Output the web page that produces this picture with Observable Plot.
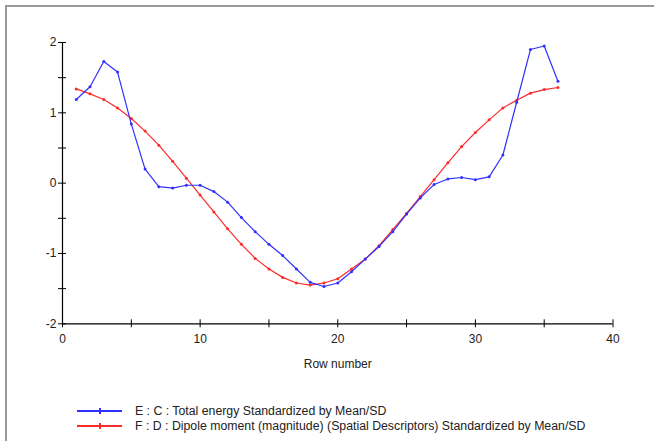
<!DOCTYPE html>
<html>
<head>
<meta charset="utf-8">
<script src="https://cdn.jsdelivr.net/npm/d3@7"></script>
<script src="https://cdn.jsdelivr.net/npm/@observablehq/plot@0.6"></script>
<style>
  html, body { margin: 0; padding: 0; background: #fff; width: 654px; height: 441px; overflow: hidden; }
  #frame { position: absolute; left: 5px; top: 5px; width: 649px; height: 436px; border-top: 2px solid #999; border-left: 2px solid #999; box-sizing: border-box; }
  #chart { position: absolute; left: 0; top: 0; }
  #legend { position: absolute; left: 0; top: 400px; width: 654px; font-family: "Liberation Sans", Arial, sans-serif; font-size: 12.3px; color: #222; }
  .row { position: absolute; left: 77px; height: 14px; display: flex; align-items: center; }
  .sw { position: relative; width: 45px; height: 14px; margin-right: 13px; }
  .sw .ln { position: absolute; left: 0; top: 6px; width: 45px; height: 2px; }
  .sw .mk { position: absolute; left: 22px; top: 4px; width: 1.5px; height: 6px; }
</style>
</head>
<body>
<div id="frame"></div>
<div id="chart"></div>
<div id="legend"></div>
<script>
const rows = [1,2,3,4,5,6,7,8,9,10,11,12,13,14,15,16,17,18,19,20,21,22,23,24,25,26,27,28,29,30,31,32,33,34,35,36];
const totalEnergy = [1.19,1.37,1.73,1.58,0.84,0.20,-0.05,-0.07,-0.03,-0.03,-0.12,-0.27,-0.49,-0.69,-0.87,-1.03,-1.22,-1.41,-1.47,-1.42,-1.26,-1.08,-0.90,-0.69,-0.44,-0.21,-0.02,0.06,0.08,0.05,0.09,0.40,1.15,1.90,1.95,1.45];
const dipoleMoment = [1.34,1.27,1.19,1.07,0.92,0.74,0.54,0.31,0.07,-0.17,-0.41,-0.65,-0.87,-1.07,-1.22,-1.34,-1.42,-1.45,-1.42,-1.36,-1.22,-1.08,-0.89,-0.66,-0.43,-0.19,0.05,0.29,0.52,0.72,0.90,1.07,1.18,1.28,1.33,1.36];
const seriesNames = ["E : C : Total energy Standardized by Mean/SD", "F : D : Dipole moment (magnitude) (Spatial Descriptors) Standardized by Mean/SD"];
const seriesColors = ["#3030ff", "#ff2a2a"];
const xLabelTicks = [0,10,20,30,40];
const xTickMarks = [0,5,10,15,20,25,30,35,40];
const yLabelTicks = [-2,-1,0,1,2];
const yTickMarks = [-2,-1.5,-1,-0.5,0,0.5,1,1.5,2];
const xTitle = "Row number";

const table = rows.map((r, i) => ({row: r, e: totalEnergy[i], f: dipoleMoment[i]}));

const chart = Plot.plot({
  width: 654,
  height: 400,
  marginLeft: 62,
  marginRight: 41.5,
  marginTop: 42,
  marginBottom: 76.7,
  x: {domain: [0, 40], label: null},
  y: {domain: [-2, 2], label: null},
  style: {fontFamily: "'Liberation Sans', Arial, sans-serif", fontSize: "12px", color: "#222", background: "transparent", overflow: "visible"},
  marks: [
    Plot.ruleX([0], {stroke: "#000", strokeWidth: 1.2}),
    Plot.ruleY([-2], {stroke: "#000", strokeWidth: 1.2}),
    Plot.axisY(yTickMarks, {tickSize: 8, dx: 4, tickFormat: () => "", label: null, stroke: "#000"}),
    Plot.axisY(yLabelTicks, {tickSize: 0, tickPadding: 6, label: null, tickFormat: d => String(d)}),
    Plot.axisX(xTickMarks, {tickSize: 8, dy: -4, tickFormat: () => "", label: null, stroke: "#000"}),
    Plot.axisX(xLabelTicks, {tickSize: 0, tickPadding: 11, label: xTitle, labelAnchor: "center", labelOffset: 44, labelArrow: "none", tickFormat: d => String(d)}),
    Plot.line(table, {x: "row", y: "f", stroke: seriesColors[1], strokeWidth: 1.2}),
    Plot.dot(table, {x: "row", y: "f", fill: seriesColors[1], r: 1.5}),
    Plot.line(table, {x: "row", y: "e", stroke: seriesColors[0], strokeWidth: 1.2}),
    Plot.dot(table, {x: "row", y: "e", fill: seriesColors[0], r: 1.5})
  ]
});
document.getElementById("chart").appendChild(chart);

const legend = document.getElementById("legend");
seriesNames.forEach((name, i) => {
  const row = document.createElement("div");
  row.className = "row";
  row.style.top = (4 + i * 15) + "px";
  const sw = document.createElement("div");
  sw.className = "sw";
  const ln = document.createElement("div");
  ln.className = "ln";
  ln.style.background = seriesColors[i];
  const mk = document.createElement("div");
  mk.className = "mk";
  mk.style.background = seriesColors[i];
  sw.appendChild(ln); sw.appendChild(mk);
  const label = document.createElement("span");
  label.textContent = name;
  row.appendChild(sw); row.appendChild(label);
  legend.appendChild(row);
});
</script>
</body>
</html>
